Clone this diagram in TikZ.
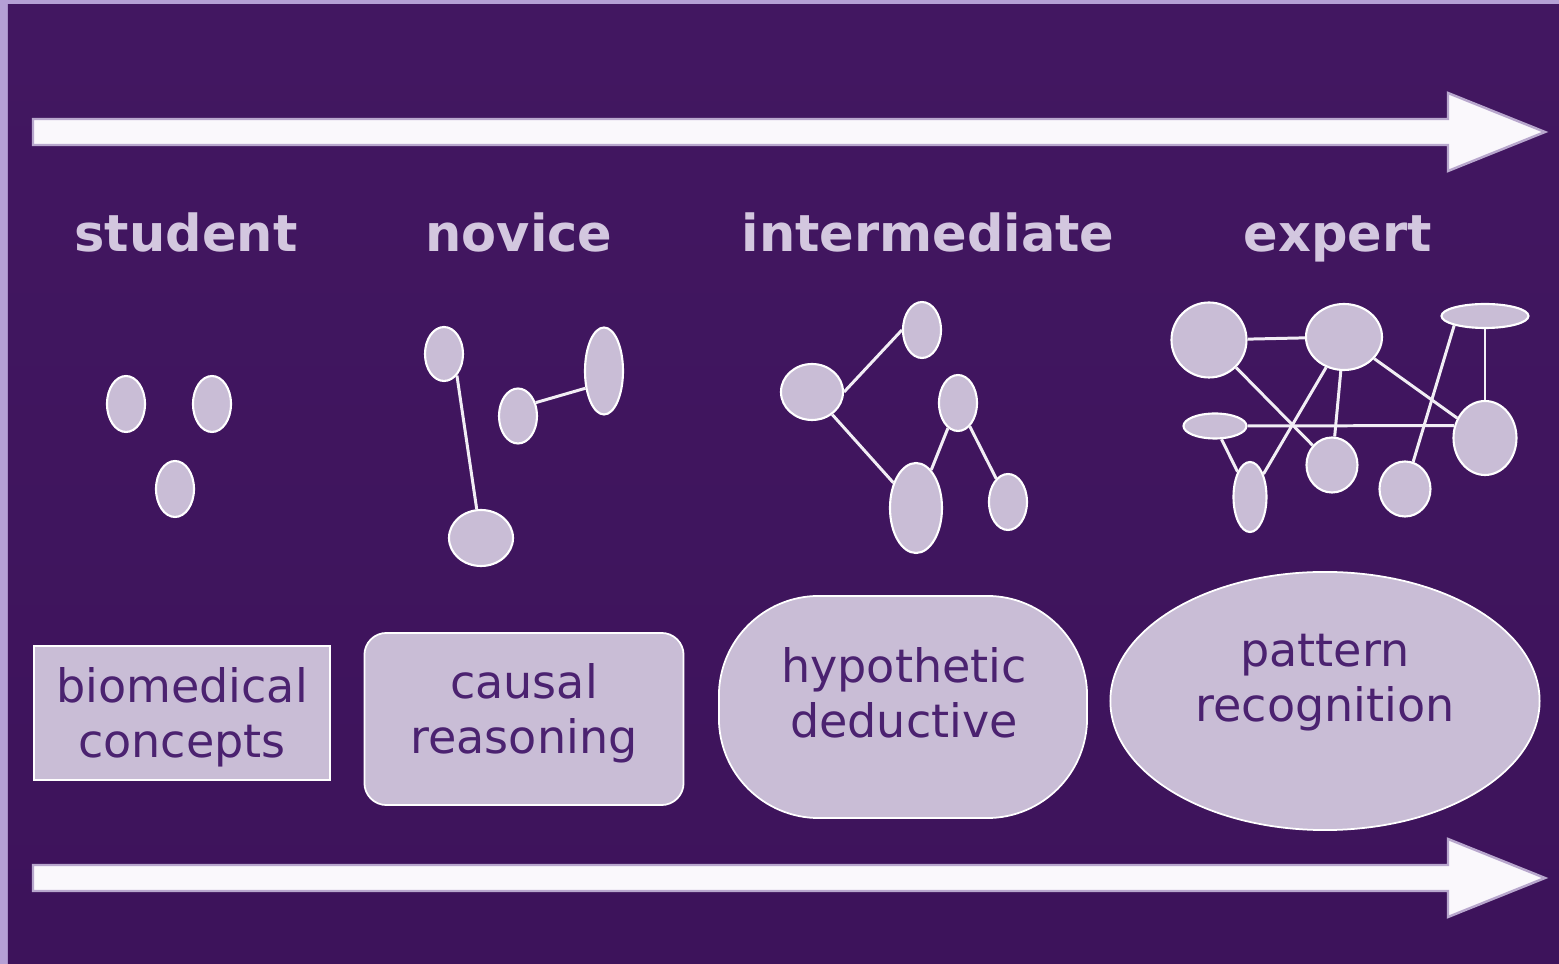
\documentclass[tikz,border=0pt]{standalone}
\usepackage{fontspec}
\setmainfont{DejaVu Sans}
\usepackage{xcolor}
\usetikzlibrary{shapes.geometric}

\definecolor{bandlilac}{HTML}{B5A0D5}
\definecolor{bgtop}{HTML}{421761}
\definecolor{bgmid}{HTML}{4A1C69}
\definecolor{bgbot}{HTML}{3D135B}
\definecolor{lilac}{HTML}{C9BDD6}
\definecolor{plumtext}{HTML}{4B2270}
\definecolor{headtext}{HTML}{D3C7DF}
\definecolor{arrowfill}{HTML}{FAF8FC}
\definecolor{arrowrim}{HTML}{B8A7CD}

\begin{document}
\begin{tikzpicture}[x=0.01cm,y=-0.01cm,
    blob/.style={ellipse,draw=white,line width=0.6pt,fill=lilac,inner sep=0pt},
    link/.style={draw=white!75!lilac,line width=0.85pt},
    stage/.style={font=\bfseries\fontsize{14.5}{17}\selectfont,text=headtext,anchor=base},
    modebox/.style={draw=white,line width=0.5pt,fill=lilac,inner sep=0pt},
    modetext/.style={font=\fontsize{13.1}{15.9}\selectfont,text=plumtext,align=center,anchor=base},
    bigarrow/.style={fill=arrowfill,draw=arrowrim,line width=0.7pt,line join=miter}]
\useasboundingbox (0,0) rectangle (1559,964);

% backdrop with the light band on the left and top
\fill[bandlilac] (0,0) rectangle (1559,964);
\shade[top color=bgtop,middle color=bgmid,bottom color=bgbot] (8,5) rectangle (1559,964);

% the two long arrows
\foreach \ya in {132,878} {
    \filldraw[bigarrow] (33,\ya-13) -- (1448,\ya-13) -- (1448,\ya-39) -- (1545,\ya)
        -- (1448,\ya+39) -- (1448,\ya+13) -- (33,\ya+13) -- cycle;
}

% stage names
\node[stage] (student) at (186,252) {student};
\node[stage] (novice) at (519,252) {novice};
\node[stage] (intermediate) at (928,252) {intermediate};
\node[stage] (expert) at (1338,252) {expert};

% student: loose facts
\foreach \n/\x/\y/\w/\h in {s1/126/404/38/56, s2/212/404/38/56, s3/175/489/38/56}
    \node[blob,minimum width=\w*0.01cm,minimum height=\h*0.01cm] (\n) at (\x,\y) {};

% novice: a few links
\foreach \n/\x/\y/\w/\h in {n1/444/354/38/54, n2/518/416/38/55, n3/604/371/38/87, n4/481/538/64/56}
    \node[blob,minimum width=\w*0.01cm,minimum height=\h*0.01cm] (\n) at (\x,\y) {};
\draw[link] (n1.-59) -- (n4);
\draw[link] (n2.37) -- (n3.223);

% intermediate: a small tree
\foreach \n/\x/\y/\w/\h in {i1/922/330/38/56, i2/812/392/62/56, i3/958/403/38/56, i4/916/508/52/90, i5/1008/502/38/56}
    \node[blob,minimum width=\w*0.01cm,minimum height=\h*0.01cm] (\n) at (\x,\y) {};
\draw[link] (i2.east) -- (i1.west);
\draw[link] (i2) -- (i4);
\draw[link] (i3) -- (i4);
\draw[link] (i3) -- (i5);

% expert: dense web
\foreach \n/\x/\y/\w/\h in {e1/1209/340/75/75, e2/1344/337/76/66, e3/1485/316/87/24, e4/1215/426/63/25,
                            e5/1332/465/51/55, e6/1485/438/63/74, e7/1250/497/33/70, e8/1405/489/51/55}
    \node[blob,minimum width=\w*0.01cm,minimum height=\h*0.01cm] (\n) at (\x,\y) {};
\draw[link] (e1) -- (e2);
\draw[link] (e1) -- (e5);
\draw[link] (e2) -- (e7);
\draw[link] (e2) -- (e5);
\draw[link] (e2) -- (e6);
\draw[link] (e3.197) -- (e8);
\draw[link] (e3) -- (e6);
\draw[link] (e4) -- (e6.158);
\draw[link] (e4) -- (e7);

% reasoning modes
\node[modebox,minimum width=2.96cm,minimum height=1.34cm] (bio) at (182,713) {};
\node[modebox,rounded corners=0.22cm,minimum width=3.19cm,minimum height=1.72cm] (causal) at (524,719) {};
\node[modebox,rounded corners=1cm,minimum width=3.68cm,minimum height=2.22cm] (hypo) at (903,707) {};
\node[modebox,ellipse,minimum width=4.29cm,minimum height=2.58cm] (pattern) at (1325,701) {};

% base of a two-line node sits on its last line
\node[modetext] (biotext) at (182,758) {biomedical\\concepts};
\node[modetext] (causaltext) at (524,754) {causal\\reasoning};
\node[modetext] (hypotext) at (904,738) {hypothetic\\deductive};
\node[modetext] (patterntext) at (1325,722) {pattern\\recognition};
\end{tikzpicture}
\end{document}
